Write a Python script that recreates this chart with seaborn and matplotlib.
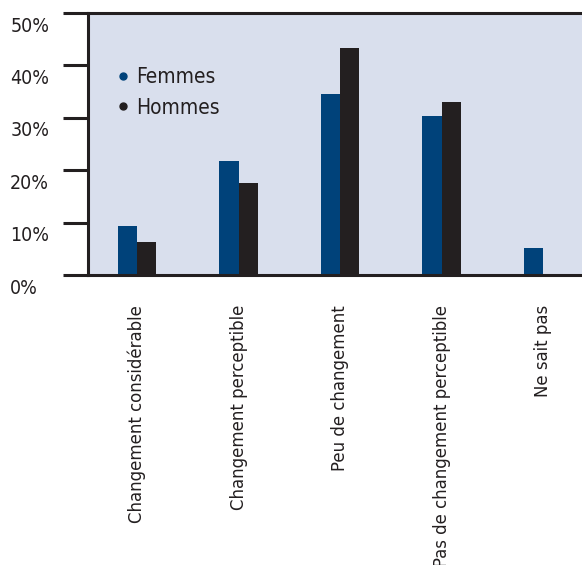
import matplotlib
matplotlib.use("Agg")
import matplotlib.pyplot as plt
from matplotlib.lines import Line2D
from matplotlib.transforms import ScaledTranslation
import seaborn as sns
import pandas as pd

categories = ["Changement considérable", "Changement perceptible", "Peu de changement",
              "Pas de changement perceptible", "Ne sait pas"]
femmes = [9.4, 21.8, 34.5, 30.3, 5.2]
hommes = [6.3, 17.6, 43.3, 33.0, 0.0]
groups = ["Femmes", "Hommes"]
yticks = [0, 10, 20, 30, 40, 50]
ytick_labels = ["0%", "10%", "20%", "30%", "40%", "50%"]

blue = "#00427a"
dark = "#231f20"
bg = "#d9dfed"

df = pd.DataFrame({
    "cat": categories * 2,
    "sexe": ["Femmes"] * len(categories) + ["Hommes"] * len(categories),
    "val": femmes + hommes,
})

sns.set_style("white")
plt.rcParams["font.family"] = ["DejaVu Sans"]
plt.rcParams["font.stretch"] = "condensed"

fig = plt.figure(figsize=(5.82, 5.65), dpi=100)
ax = fig.add_axes([88 / 582, 1 - 275 / 565, 1 - 88 / 582, (275 - 13) / 565])
ax.set_facecolor(bg)

sns.barplot(data=df, x="cat", y="val", hue="sexe", palette=[blue, dark],
            width=0.375, saturation=1, linewidth=0, ax=ax, legend=False)

ax.set_xlim(-0.483, 4.384)
ax.set_ylim(0, 50)
ax.set_xlabel("")
ax.set_ylabel("")

for side in ["left", "bottom", "top"]:
    ax.spines[side].set_color(dark)
    ax.spines[side].set_linewidth(2.2)
ax.spines["right"].set_visible(False)

ax.set_yticks(yticks)
ax.set_yticklabels(ytick_labels)
ax.tick_params(axis="y", left=True, direction="out", length=18, width=2.2, color=dark,
               pad=38, labelsize=14, labelcolor=dark)
offset = ScaledTranslation(0, -11 / 100, fig.dpi_scale_trans)
for lab in ax.get_yticklabels():
    lab.set_horizontalalignment("left")
    lab.set_transform(lab.get_transform() + offset)

ax.tick_params(axis="x", bottom=False, length=0, pad=21.6, labelsize=13.2, labelcolor=dark)
for lab in ax.get_xticklabels():
    lab.set_rotation(90)

handles = [Line2D([], [], marker="o", linestyle="", markersize=5, color=c) for c in [blue, dark]]
ax.legend(handles, groups, loc="upper left", bbox_to_anchor=(0.02, 0.865), frameon=False,
          fontsize=15, handlelength=0.6, handletextpad=0.35, labelspacing=0.5,
          labelcolor=dark)

fig.savefig("out.png", dpi=100)
